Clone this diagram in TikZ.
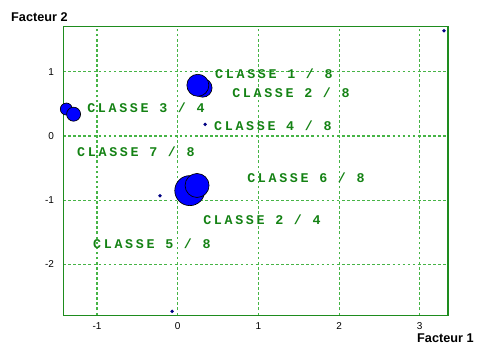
\documentclass[tikz,border=0pt]{standalone}
\usepackage{fontspec}
\setmainfont{Liberation Sans}
\newfontfamily\classfont[LetterSpace=20]{Liberation Mono}
\definecolor{vertgrille}{RGB}{70,180,70}
\definecolor{vertcadre}{RGB}{30,140,30}
\definecolor{vertclasse}{RGB}{20,130,20}
\definecolor{bleupoint}{RGB}{0,0,255}
\definecolor{bleufonce}{RGB}{0,0,130}
\begin{document}
\begin{tikzpicture}[x=60.5pt, y=48.15pt,
    grille/.style={vertgrille, line width=0.8pt, dash pattern=on 2pt off 1.8pt},
    bulle/.style={draw=black, fill=bleupoint, circle, inner sep=0pt, line width=0.5pt},
    point/.style={fill=bleufonce, circle, inner sep=0pt, minimum size=2.8pt},
    classe/.style={anchor=west, inner sep=0pt, text=vertclasse,
        font=\classfont\bfseries\fontsize{10}{11}\selectfont},
    graduation/.style={inner sep=0pt, font=\fontsize{7.5}{8}\selectfont},
    axe/.style={anchor=west, inner sep=0pt, font=\bfseries\fontsize{9.5}{11}\selectfont}]

    \useasboundingbox (-2.202,-3.255) rectangle (3.771,2.118);

    \draw[grille, step={(1,1)}] (-1.42,-2.79) grid (3.35,1.70);
    \draw[vertcadre, line width=0.8pt] (-1.42,-2.79) rectangle (3.35,1.70);

    \foreach \x in {-1,0,1,2,3}
        \node[graduation] (gx\x) at (\x,-2.96) {\x};
    \foreach \y in {-2,-1,0,1}
        \node[graduation, anchor=east] (gy\y) at (-1.53,\y) {\y};

    \node[axe] (f2) at (-2.066,1.858) {Facteur 2};
    \node[axe] (f1) at (2.965,-3.146) {Facteur 1};

    % individus
    \node[point] (p1) at (3.30,1.64) {};
    \node[point] (p2) at (0.34,0.18) {};
    \node[point] (p3) at (-0.22,-0.93) {};
    \node[point] (p4) at (-0.07,-2.73) {};

    \node[bulle, minimum size=14pt] (b1) at (0.31,0.75) {};
    \node[bulle, minimum size=16.5pt] (b2) at (0.25,0.79) {};
    \node[bulle, minimum size=9pt] (b3) at (-1.38,0.42) {};
    \node[bulle, minimum size=10.5pt] (b4) at (-1.29,0.34) {};
    \node[bulle, minimum size=22.5pt] (b5) at (0.15,-0.85) {};
    \node[bulle, minimum size=18pt] (b6) at (0.24,-0.77) {};

    % classes
    \node[classe] (c18) at (0.462,0.966) {CLASSE 1 / 8};
    \node[classe] (c28) at (0.673,0.670) {CLASSE 2 / 8};
    \node[classe] (c34) at (-1.124,0.436) {CLASSE 3 / 4};
    \node[classe] (c48) at (0.449,0.167) {CLASSE 4 / 8};
    \node[classe] (c78) at (-1.248,-0.238) {CLASSE 7 / 8};
    \node[classe] (c68) at (0.859,-0.650) {CLASSE 6 / 8};
    \node[classe] (c24) at (0.314,-1.297) {CLASSE 2 / 4};
    \node[classe] (c58) at (-1.050,-1.678) {CLASSE 5 / 8};
\end{tikzpicture}
\end{document}
